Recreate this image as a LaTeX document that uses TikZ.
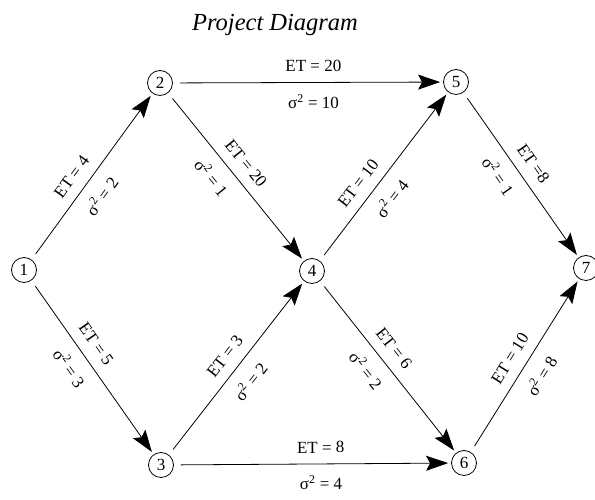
\documentclass[tikz,border=0pt]{standalone}
\usepackage{fontspec}
\setmainfont{Liberation Serif}
\usetikzlibrary{arrows.meta}

\tikzset{
  event/.style={draw, circle, line width=0.8pt, minimum size=25pt, inner sep=0pt, font=\fontsize{17}{17}\selectfont},
  activity/.style={line width=0.8pt, -{Stealth[length=22pt, width=15pt, inset=4pt]}, shorten <=7pt, shorten >=3pt},
  etlabel/.style={sloped, above=7pt, font=\fontsize{17}{17}\selectfont},
  varlabel/.style={sloped, below=8pt, font=\fontsize{17}{17}\selectfont}
}

\begin{document}
\begin{tikzpicture}[x=1pt, y=1pt]
  \useasboundingbox (0,0) rectangle (595,500);
  \node[font=\fontsize{24.5}{24.5}\selectfont\itshape, anchor=base] (title) at (275,469) {Project Diagram};

  \node[event] (n1) at (24,230) {1};
  \node[event] (n2) at (160,417) {2};
  \node[event] (n3) at (161,35) {3};
  \node[event] (n4) at (312,229) {4};
  \node[event] (n5) at (456,418) {5};
  \node[event] (n6) at (464,37) {6};
  \node[event] (n7) at (586,232) {7};

  \draw[activity] (n1) -- (n2) node[etlabel, pos=0.44] {ET = 4} node[varlabel, pos=0.45] {σ\textsuperscript{2} = 2};
  \draw[activity] (n1) -- (n3) node[etlabel, pos=0.42] {ET = 5} node[varlabel, pos=0.44] {σ\textsuperscript{2} = 3};
  \draw[activity] (n2) -- (n4) node[etlabel, pos=0.48] {ET = 20} node[varlabel, pos=0.43] {σ\textsuperscript{2} = 1};
  \draw[activity] (n3) -- (n4) node[etlabel, pos=0.51] {ET = 3} node[varlabel, pos=0.49] {σ\textsuperscript{2} = 2};
  \draw[activity] (n2) -- (n5) node[etlabel, pos=0.52] {ET = 20} node[varlabel, pos=0.52] {σ\textsuperscript{2} = 10};
  \draw[activity] (n3) -- (n6) node[etlabel, pos=0.53] {ET = 8} node[varlabel, pos=0.53] {σ\textsuperscript{2} = 4};
  \draw[activity] (n4) -- (n5) node[etlabel, pos=0.40] {ET = 10} node[varlabel, pos=0.44] {σ\textsuperscript{2} = 4};
  \draw[activity] (n4) -- (n6) node[etlabel, pos=0.45] {ET = 6} node[varlabel, pos=0.45] {σ\textsuperscript{2} = 2};
  \draw[activity] (n5) -- (n7) node[etlabel, pos=0.49] {ET =8} node[varlabel, pos=0.44] {σ\textsuperscript{2} = 1};
  \draw[activity] (n6) -- (n7) node[etlabel, pos=0.49] {ET = 10} node[varlabel, pos=0.50] {σ\textsuperscript{2} = 8};
\end{tikzpicture}
\end{document}
